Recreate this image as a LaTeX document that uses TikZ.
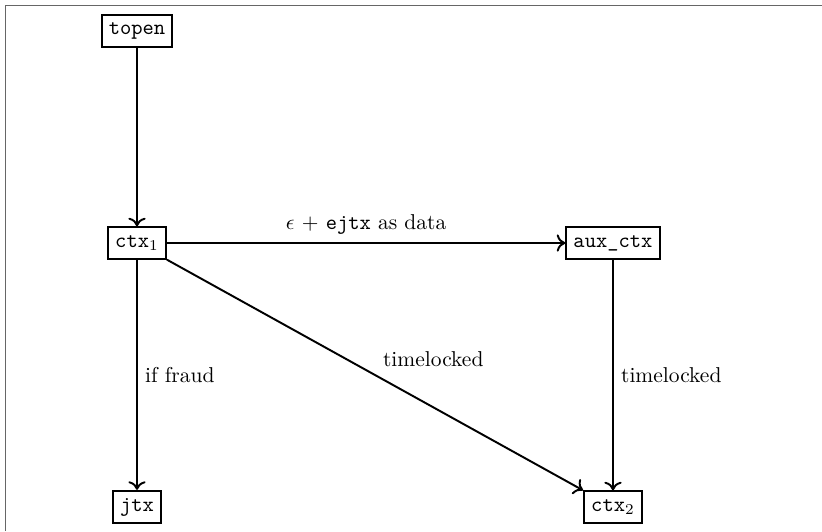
\documentclass[tikz,border=0pt]{standalone}
\usetikzlibrary{arrows.meta}
\begin{document}
\begin{tikzpicture}[x=0.4651pt,y=-0.4651pt,
  box/.style={draw,line width=1pt,fill=white,minimum height=14.5pt,inner sep=3.3pt},
  conn/.style={-{To[length=4pt,width=8pt]},line width=0.9pt},
  lbl/.style={font=\normalsize}]
\useasboundingbox (0,0) rectangle (822,531);
\draw[gray!80!black,line width=0.65pt] (5.5,531) -- (5.5,5.5) -- (822,5.5);
\node[box] (topen) at (137,31) {\texttt{topen}};
\node[box] (ctx1) at (137,243) {\texttt{ctx}$_1$};
\node[box] (aux) at (613,243) {\texttt{aux\_ctx}};
\node[box] (jtx) at (137,507) {\texttt{jtx}};
\node[box] (ctx2) at (613,507) {\texttt{ctx}$_2$};
\draw[conn] (topen) -- (ctx1);
\draw[conn] (ctx1) -- node[above,lbl] {$\epsilon$ + \texttt{ejtx} as data} (aux);
\draw[conn] (ctx1) -- node[right,lbl] {if fraud} (jtx);
\draw[conn] (ctx1.south east) -- node[anchor=south west,lbl] {timelocked} (ctx2.north west);
\draw[conn] (aux) -- node[right,lbl] {timelocked} (ctx2);
\end{tikzpicture}
\end{document}
